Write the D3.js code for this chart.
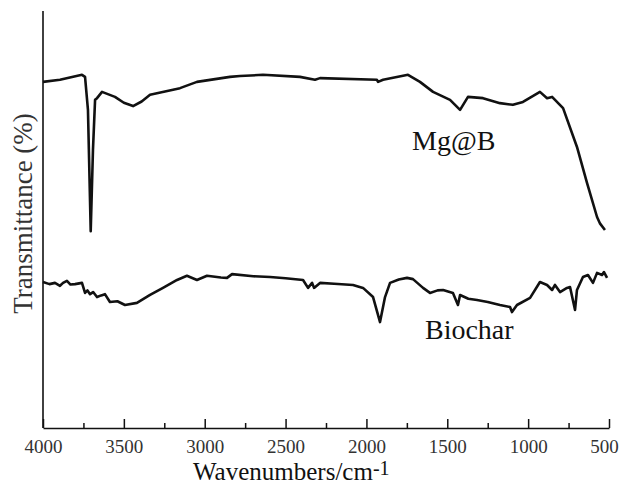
<!DOCTYPE html>
<html>
<head>
<meta charset="utf-8">
<script src="https://cdn.jsdelivr.net/npm/d3@7"></script>
<style>
  body { margin: 0; background: #fff; }
  svg text { font-family: "Liberation Serif", "Times New Roman", serif; fill: #111; }
  .tick text { font-family: "Liberation Serif", serif !important; font-size: 19px !important; fill: #333 !important; }
</style>
</head>
<body>
<div id="plotFTIR"></div>
<script>
// wavenumber (cm-1) and transmittance (arb. %)
var mgbWave = [4000, 3895, 3759, 3740, 3722, 3705, 3691, 3678, 3666, 3635, 3555, 3500, 3443, 3390, 3338, 3153, 3048,
  2844, 2782, 2640, 2411, 2318, 2287, 1935, 1928, 1897, 1743, 1669, 1588, 1483, 1421, 1372,
  1279, 1174, 1094, 1032, 927, 883, 852, 784, 698, 636, 574, 555, 525];
var mgbT = [83.0, 83.5, 84.7, 84.2, 76.3, 47.2, 66.7, 78.7, 79.1, 80.6, 79.4, 78.0, 77.2, 78.3, 79.9, 81.5, 83.0,
  84.2, 84.4, 84.7, 84.2, 83.5, 83.9, 83.5, 83.0, 83.5, 84.7, 83.0, 80.6, 78.7, 76.3, 79.4,
  79.1, 77.9, 77.5, 78.2, 80.6, 79.1, 79.4, 76.7, 67.4, 58.8, 50.6, 49.0, 47.5];

var bioWave = [4000, 3960, 3926, 3895, 3876, 3852, 3830, 3802, 3759, 3740, 3725, 3709, 3690, 3666, 3640,
  3617, 3586, 3540, 3493, 3419, 3338, 3258, 3171, 3110, 3048, 2986, 2900, 2862, 2831, 2700,
  2596, 2500, 2392, 2361, 2336, 2324, 2287, 2200, 2083, 2021, 1959, 1916, 1885, 1854, 1800,
  1749, 1712, 1650, 1607, 1560, 1526, 1465, 1434, 1421, 1370, 1316, 1250, 1174, 1112, 1100,
  1069, 988, 927, 883, 852, 834, 803, 760, 741, 710, 698, 661, 630, 599, 574,
  543, 531, 512];
var bioT = [35.0, 34.5, 34.8, 34.1, 34.8, 35.3, 34.4, 34.5, 34.8, 32.4, 33.0, 32.1, 32.6, 31.4, 31.8,
  32.1, 30.2, 30.4, 29.5, 30.0, 31.9, 33.6, 35.5, 36.5, 35.5, 36.5, 36.1, 36.0, 36.9, 36.4,
  36.2, 35.9, 35.5, 33.6, 34.8, 33.6, 34.8, 34.6, 34.3, 33.6, 31.4, 25.4, 31.4, 34.8, 35.6,
  36.0, 35.7, 33.6, 32.4, 33.0, 33.1, 32.4, 29.5, 31.9, 31.0, 30.7, 30.2, 29.5, 29.0, 27.8,
  29.5, 31.2, 35.0, 34.3, 33.1, 34.3, 32.6, 33.6, 33.8, 28.3, 33.1, 36.2, 36.7, 34.8, 37.2,
  36.7, 37.4, 36.0];

var majorTicks = [4000, 3500, 3000, 2500, 2000, 1500, 1000, 500];
var minorTicks = [3750, 3250, 2750, 2250, 1750, 1250, 750];

var labels = [
  {name: "Mg@B", w: 1718, t: 66.7},
  {name: "Biochar", w: 1638, t: 21.3}
];

var margin = {top: 11, right: 13, bottom: 57, left: 43},
    width = 622 - margin.left - margin.right,
    height = 485 - margin.top - margin.bottom;

var svg = d3.select("#plotFTIR")
  .append("svg")
    .attr("width", 622)
    .attr("height", 485)
  .append("g")
    .attr("transform", "translate(" + margin.left + "," + margin.top + ")");

var x = d3.scaleLinear()
  .domain([4000, 500])
  .range([0, width]);

var y = d3.scaleLinear()
  .domain([0, 100])
  .range([height, 0]);

// minor ticks (no labels)
svg.append("g")
  .attr("transform", "translate(0," + height + ")")
  .call(d3.axisBottom(x).tickValues(minorTicks).tickSize(-5).tickFormat(""))
  .call(g => g.select(".domain").remove())
  .selectAll("line").attr("stroke", "#111").attr("stroke-width", 1.5);

// major ticks + labels
var xAxis = svg.append("g")
  .attr("transform", "translate(0," + height + ")")
  .call(d3.axisBottom(x).tickValues(majorTicks).tickFormat(d3.format("d"))
    .tickSize(-9).tickSizeOuter(0).tickPadding(12))
  .attr("font-family", null)
  .attr("font-size", null);
xAxis.select(".domain").attr("stroke", "#111").attr("stroke-width", 1.6);
xAxis.selectAll("line").attr("stroke", "#111").attr("stroke-width", 1.5);
xAxis.selectAll("text")
  .attr("dx", d => d === 500 ? -5 : 0);

// left axis: plain line
svg.append("line")
  .attr("x1", 0).attr("x2", 0)
  .attr("y1", 0).attr("y2", height)
  .attr("stroke", "#111")
  .attr("stroke-width", 1.6);

var line = d3.line()
  .x(d => x(d[0]))
  .y(d => y(d[1]));

svg.append("path")
  .datum(mgbWave.map((w, i) => [w, mgbT[i]]))
  .attr("d", line)
  .attr("fill", "none")
  .attr("stroke", "#111")
  .attr("stroke-width", 2.6)
  .attr("stroke-linejoin", "round");

svg.append("path")
  .datum(bioWave.map((w, i) => [w, bioT[i]]))
  .attr("d", line)
  .attr("fill", "none")
  .attr("stroke", "#111")
  .attr("stroke-width", 2.6)
  .attr("stroke-linejoin", "round");

svg.selectAll(".lbl")
  .data(labels)
  .enter()
  .append("text")
    .attr("class", "lbl")
    .attr("x", d => x(d.w))
    .attr("y", d => y(d.t))
    .style("font-size", "28px")
    .text(d => d.name);

// axis titles
var xt = svg.append("text")
  .attr("x", 150)
  .attr("y", height + 52)
  .style("font-size", "25px")
  .text("Wavenumbers/cm");
xt.append("tspan")
  .attr("dy", -5)
  .style("font-size", "20px")
  .text("-1");

svg.append("text")
  .attr("transform", "translate(-11," + (height / 2 - 6) + ") rotate(-90)")
  .attr("text-anchor", "middle")
  .style("font-size", "27px")
  .style("fill", "#333")
  .text("Transmittance (%)");
</script>
</body>
</html>
